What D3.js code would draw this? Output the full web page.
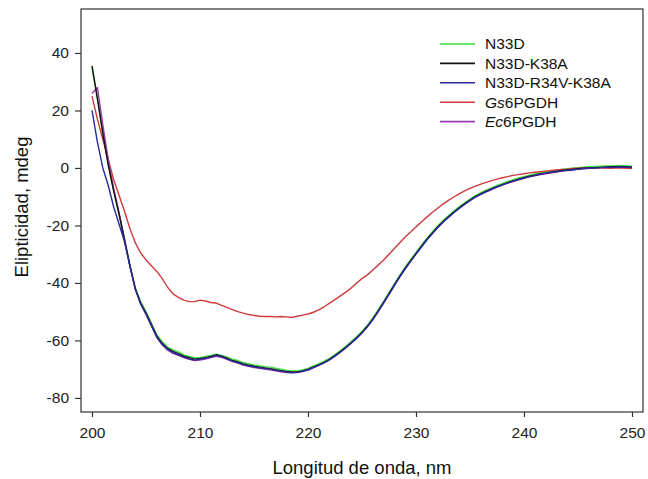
<!DOCTYPE html>
<html>
<head>
<meta charset="utf-8">
<script src="https://cdn.jsdelivr.net/npm/d3@7"></script>
<style>
  body { margin: 0; background: #fff; }
  svg { display: block; font-family: "Liberation Sans", Arial, sans-serif; }
</style>
</head>
<body>
<svg width="648" height="479"></svg>
<script>
// wavelengths, 0.5 nm steps
const wavelength = d3.range(200, 250.01, 0.5);

const n33d = [35, 24.5, 12.5, 1.5, -7.5, -16, -24.5, -33.5, -41.5, -46.5,
  -50, -54, -58, -60.5, -62.3, -63.3, -64, -65, -65.6, -66,
  -66, -65.6, -65.2, -64.8, -65.2, -65.8, -66.5, -67, -67.7, -68.1,
  -68.5, -68.8, -69.1, -69.3, -69.7, -70, -70.4, -70.6, -70.6, -70.3,
  -69.7, -68.9, -68.1, -67.2, -66.2, -64.9, -63.5, -62, -60.4, -58.7,
  -56.8, -54.7, -52.2, -49.4, -46.4, -43.4, -40.3, -37.3, -34.5, -31.9,
  -29.4, -26.9, -24.5, -22.3, -20.2, -18.3, -16.6, -15, -13.5, -12.1,
  -10.8, -9.6, -8.6, -7.7, -6.9, -6.1, -5.4, -4.7, -4.1, -3.5,
  -3, -2.5, -2.1, -1.7, -1.4, -1.1, -0.8, -0.5, -0.3, -0.1,
  0.1, 0.3, 0.4, 0.5, 0.6, 0.7, 0.7, 0.8, 0.8, 0.7, 0.6];

const n33dK38a = [35.5, 24, 12, 1, -8, -16, -25, -34, -42, -47,
  -50.5, -54.5, -58.5, -61, -62.8, -63.8, -64.6, -65.5, -66, -66.5,
  -66.3, -66, -65.6, -65, -65.5, -66.2, -67, -67.5, -68.2, -68.6,
  -69, -69.3, -69.6, -69.8, -70.2, -70.5, -70.8, -71, -71, -70.6,
  -70.1, -69.3, -68.5, -67.6, -66.6, -65.3, -63.9, -62.4, -60.8, -59.1,
  -57.2, -55.1, -52.6, -49.8, -46.8, -43.8, -40.7, -37.7, -34.9, -32.3,
  -29.8, -27.3, -24.9, -22.7, -20.6, -18.7, -17, -15.4, -13.9, -12.5,
  -11.2, -10, -9, -8.1, -7.3, -6.5, -5.8, -5.1, -4.5, -3.9,
  -3.4, -2.9, -2.5, -2.1, -1.8, -1.5, -1.2, -0.9, -0.7, -0.5,
  -0.3, -0.1, 0, 0.1, 0.2, 0.3, 0.4, 0.4, 0.5, 0.4, 0.3];

const n33dR34vK38a = [20, 9, 0, -6, -13.5, -19.5, -25.5, -34, -42, -47.2,
  -50.8, -54.8, -58.8, -61.3, -63, -64.2, -65, -65.8, -66.4, -66.8,
  -66.5, -66.2, -65.8, -65.2, -65.6, -66.4, -67.2, -67.7, -68.4, -68.8,
  -69.2, -69.5, -69.8, -70, -70.4, -70.7, -71, -71.2, -71.1, -70.7,
  -70.2, -69.4, -68.6, -67.7, -66.7, -65.4, -64, -62.5, -60.9, -59.2,
  -57.3, -55.2, -52.7, -49.9, -46.9, -43.9, -40.8, -37.8, -35, -32.4,
  -29.9, -27.4, -25, -22.8, -20.7, -18.8, -17.1, -15.5, -14, -12.6,
  -11.3, -10.1, -9.1, -8.2, -7.4, -6.6, -5.9, -5.2, -4.6, -4,
  -3.5, -3, -2.6, -2.2, -1.9, -1.6, -1.3, -1, -0.8, -0.6,
  -0.4, -0.2, -0.1, 0, 0.1, 0.2, 0.3, 0.3, 0.4, 0.3, 0.2];

const gs6pgdh = [25, 17, 10, 3, -4, -9.5, -15, -21, -26, -29.5,
  -32, -34, -36, -38.5, -41.5, -43.8, -45, -46, -46.5, -46.5,
  -46, -46.3, -46.8, -47, -47.8, -48.5, -49.3, -50, -50.5, -51,
  -51.3, -51.6, -51.7, -51.7, -51.8, -51.7, -51.8, -52, -51.6, -51.2,
  -50.8, -50.2, -49.4, -48.3, -47, -45.8, -44.5, -43.2, -41.8, -40,
  -38.5, -37.2, -35.5, -33.8, -32, -30, -28, -26, -24, -22.3,
  -20.5, -18.8, -17.1, -15.5, -14, -12.6, -11.3, -10.1, -9, -8,
  -7.1, -6.3, -5.6, -5, -4.4, -3.9, -3.4, -3, -2.6, -2.3,
  -2, -1.7, -1.5, -1.3, -1.1, -0.9, -0.7, -0.5, -0.4, -0.2,
  -0.1, 0, 0, 0, 0, 0, -0.1, 0, 0, -0.1, -0.2];

const ec6pgdh = [26, 28, 15, 3, -7, -15.5, -24.5, -33.8, -42, -47.3,
  -51, -55, -59, -61.6, -63.4, -64.5, -65.2, -66, -66.6, -67,
  -66.8, -66.5, -66, -65.5, -65.9, -66.6, -67.4, -67.9, -68.6, -69,
  -69.4, -69.7, -70, -70.2, -70.6, -70.9, -71.2, -71.3, -71.2, -70.8,
  -70.3, -69.5, -68.7, -67.8, -66.8, -65.5, -64.1, -62.6, -61, -59.3,
  -57.4, -55.3, -52.8, -50, -47, -44, -40.9, -37.9, -35.1, -32.5,
  -30, -27.5, -25.1, -22.9, -20.8, -18.9, -17.2, -15.6, -14.1, -12.7,
  -11.4, -10.2, -9.2, -8.3, -7.5, -6.7, -6, -5.3, -4.7, -4.1,
  -3.6, -3.1, -2.7, -2.3, -2, -1.7, -1.4, -1.1, -0.9, -0.7,
  -0.5, -0.3, -0.1, 0, 0.1, 0.1, 0.2, 0.2, 0.3, 0.2, 0.1];

const seriesNames = ["N33D", "N33D-K38A", "N33D-R34V-K38A", "Gs6PGDH", "Ec6PGDH"];
const seriesValues = [n33d, n33dK38a, n33dR34vK38a, gs6pgdh, ec6pgdh];
const seriesColors = ["#3fe03f", "#111111", "#2a2a9a", "#d03a3a", "#9a3aae"];
// italic prefix in the legend
const legendItalic = ["", "", "", "Gs", "Ec"];
const legendRest = ["N33D", "N33D-K38A", "N33D-R34V-K38A", "6PGDH", "6PGDH"];

const xTicks = [200, 210, 220, 230, 240, 250];
const yTicks = [-80, -60, -40, -20, 0, 20, 40];

const svg = d3.select("svg");
const margin = {left: 81, right: 643, top: 9, bottom: 412};

const x = d3.scaleLinear().domain([198.98, 251.02]).range([margin.left, margin.right]);
const y = d3.scaleLinear().domain([-84.9, 55.3]).range([margin.bottom, margin.top]);

// frame
svg.append("rect")
  .attr("x", margin.left).attr("y", margin.top)
  .attr("width", margin.right - margin.left).attr("height", margin.bottom - margin.top)
  .attr("fill", "none").attr("stroke", "#333").attr("stroke-width", 1.2);

// plain hyphen for negatives, like the original
const fmt = d => String(d);

const xAxis = svg.append("g")
  .attr("transform", `translate(0,${margin.bottom})`)
  .call(d3.axisBottom(x).tickValues(xTicks).tickFormat(fmt).tickSize(5).tickPadding(10).tickSizeOuter(0));
xAxis.select(".domain").remove();

const yAxis = svg.append("g")
  .attr("transform", `translate(${margin.left},0)`)
  .call(d3.axisLeft(y).tickValues(yTicks).tickFormat(fmt).tickSize(6).tickPadding(6).tickSizeOuter(0));
yAxis.select(".domain").remove();

svg.selectAll(".tick line").attr("stroke", "#333").attr("stroke-width", 1.2);
svg.selectAll(".tick text")
  .attr("font-family", "Liberation Sans, Arial, sans-serif")
  .attr("font-size", 15.5).attr("fill", "#222");

// curves (draw order so the overlap looks like the original)
const line = d3.line()
  .x((d, i) => x(wavelength[i]))
  .y(d => y(d));

const drawOrder = [0, 3, 4, 1, 2];
svg.append("g")
  .selectAll("path")
  .data(drawOrder)
  .join("path")
    .attr("d", i => line(seriesValues[i]))
    .attr("fill", "none")
    .attr("stroke", i => seriesColors[i])
    .attr("stroke-width", 1.4)
    .attr("stroke-linejoin", "round");

// legend
const legend = svg.append("g")
  .selectAll("g")
  .data(seriesNames)
  .join("g")
    .attr("transform", (d, i) => `translate(440,${44 + i * 19.4})`);

legend.append("line")
  .attr("x1", 0).attr("x2", 35)
  .attr("stroke", (d, i) => seriesColors[i])
  .attr("stroke-width", 1.6);

const lt = legend.append("text")
  .attr("x", 45).attr("dy", "0.35em")
  .attr("font-size", 15.5).attr("fill", "#111");
lt.append("tspan").attr("font-style", "italic").text((d, i) => legendItalic[i]);
lt.append("tspan").text((d, i) => legendRest[i]);

// axis titles
svg.append("text")
  .attr("x", (margin.left + margin.right) / 2).attr("y", 474)
  .attr("text-anchor", "middle")
  .attr("font-size", 18.5).attr("fill", "#111")
  .text("Longitud de onda, nm");

svg.append("text")
  .attr("transform", "translate(28,207) rotate(-90)")
  .attr("text-anchor", "middle")
  .attr("font-size", 18.5).attr("fill", "#111")
  .text("Elipticidad, mdeg");
</script>
</body>
</html>
